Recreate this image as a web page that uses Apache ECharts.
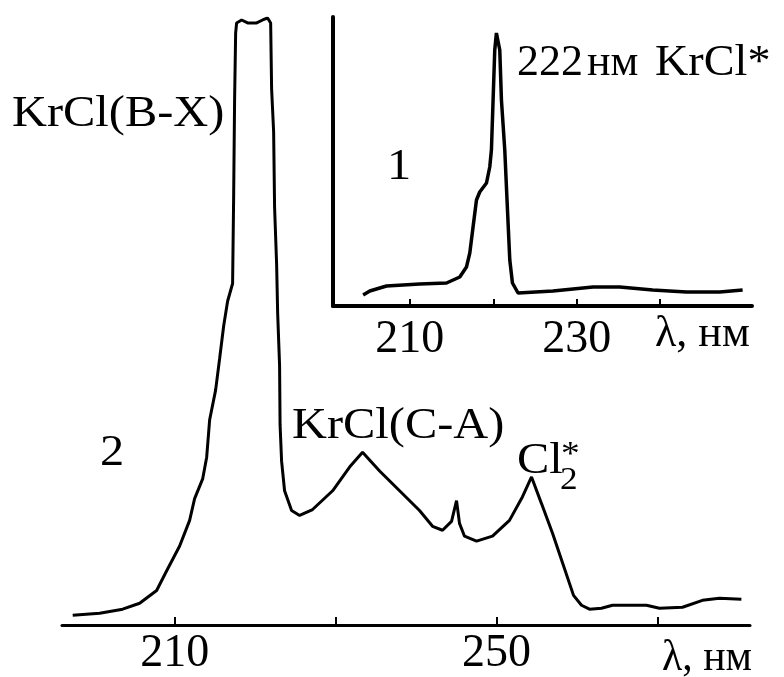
<!DOCTYPE html>
<html>
<head>
<meta charset="utf-8">
<script src="https://cdn.jsdelivr.net/npm/echarts@6.0.0/dist/echarts.min.js"></script>
<style>
html,body{margin:0;padding:0;background:#fff;}
#chart{width:784px;height:677px;}
</style>
</head>
<body>
<div id="chart"></div>
<script>
// Main spectrum (curve 2): wavelength (nm) and intensity (arb. units)
var mainWavelength = [197.33,200.68,203.54,205.65,207.76,209.01,210.62,211.86,212.48,213.48,213.98,214.35,215.09,215.59,216.09,216.58,217.20,217.33,217.45,217.58,217.70,218.32,219.07,220.19,220.93,221.55,221.93,222.05,222.30,222.42,222.67,222.80,223.04,223.10,223.29,223.66,224.53,225.53,227.14,229.63,231.74,233.35,235.47,237.95,240.43,242.05,243.29,244.41,245.03,245.40,246.02,247.52,249.50,251.61,253.23,254.35,255.59,256.96,258.20,259.57,260.56,261.55,263.04,264.41,268.63,270.25,273.11,275.59,277.70,280.43];
var mainIntensity  = [10,12,16,22,35,55,80,106,128,148,170,208,238,270,303,328,346,433,533,600,610,613,610,610,613,615,610,543,500,423,366,316,263,203,166,136,116,111,117,136,160,175,156,136,116,100,96,105,126,103,90,85,90,106,130,150,123,93,63,30,20,16,17,20,20,17,18,25,27,26];

// Inset spectrum (curve 1)
var insetWavelength = [204.41,205.21,207.21,211.20,214.40,215.99,216.79,217.19,217.58,217.99,218.38,219.19,219.58,219.78,219.98,220.18,220.38,220.78,220.98,221.38,221.65,221.98,222.30,222.97,227.16,231.95,235.15,239.10,243.14,247.13,249.88];
var insetIntensity  = [11,15,20,22,23,29,39,53,79,106,114,123,139,156,206,256,273,256,206,156,106,46,23,13,15,19,19,16,14,14,16];

// Tick values / labels
var mainTicks = [210,230,250,270];
var mainLabels = [210,250];
var insetTicks = [210,220,230,240];
var insetLabels = [210,230];
var axisName = 'λ, нм';

function pairs(xs, ys){ var o=[]; for(var i=0;i<xs.length;i++) o.push([xs[i],ys[i]]); return o; }

var FONT = 'Liberation Serif';
function txt(x, y, s, size, sx){
  return {type:'text', x:x, y:y, scaleX:(sx==null?1.1:sx), z:100,
    style:{text:s, fill:'#000', fontSize:size||44, fontFamily:FONT,
      textAlign:'left', textVerticalAlign:'middle', align:'left', verticalAlign:'middle'}};
}

var chart = echarts.init(document.getElementById('chart'), null, {renderer:'canvas'});
chart.setOption({
  animation:false,
  backgroundColor:'#fff',
  grid:[
    {left:62, top:18, width:688, height:615},
    {left:333, top:17, width:419, height:289}
  ],
  xAxis:[
    {type:'value', gridIndex:0, min:196, max:281.5,
     axisLine:{show:true, lineStyle:{color:'#000', width:3}},
     axisTick:{show:true, inside:true, length:8, customValues:mainTicks, lineStyle:{color:'#000', width:2}},
     axisLabel:{show:true, customValues:mainLabels, margin:6, color:'#000', fontSize:46, fontFamily:FONT},
     splitLine:{show:false}},
    {type:'value', gridIndex:1, min:200.8, max:251,
     axisLine:{show:true, lineStyle:{color:'#000', width:4}},
     axisTick:{show:true, inside:true, length:7, customValues:insetTicks, lineStyle:{color:'#000', width:2}},
     axisLabel:{show:true, customValues:insetLabels, margin:11, color:'#000', fontSize:46, fontFamily:FONT},
     splitLine:{show:false}}
  ],
  yAxis:[
    {type:'value', gridIndex:0, min:0, max:615, show:false},
    {type:'value', gridIndex:1, min:0, max:289,
     axisLine:{show:true, lineStyle:{color:'#000', width:4}},
     axisTick:{show:false}, axisLabel:{show:false}, splitLine:{show:false}}
  ],
  series:[
    {type:'line', xAxisIndex:0, yAxisIndex:0, data:pairs(mainWavelength, mainIntensity),
     showSymbol:false, symbol:'none', smooth:false, lineStyle:{color:'#000', width:3}},
    {type:'line', xAxisIndex:1, yAxisIndex:1, data:pairs(insetWavelength, insetIntensity),
     showSymbol:false, symbol:'none', smooth:false, lineStyle:{color:'#000', width:3.5}}
  ],
  graphic:[
    txt(12, 114, 'KrCl(B-X)'),
    txt(292, 426, 'KrCl(C-A)'),
    txt(517, 461, 'Cl'),
    txt(561, 455, '*', 34),
    txt(560, 481, '2', 32),
    txt(100, 453, '2'),
    txt(387, 167, '1'),
    txt(517, 63, '222', 44, 1.0),
    txt(587, 63, 'нм', 44, 1.0),
    txt(655, 63, 'KrCl*', 44, 1.05),
    txt(662, 658, axisName, 44, 0.95),
    txt(655, 334, axisName, 44, 1.0)
  ]
});
</script>
</body>
</html>
